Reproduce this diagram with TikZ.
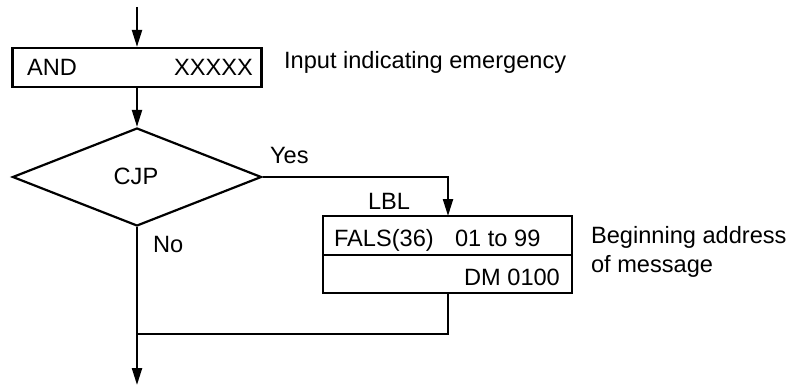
\documentclass[tikz,border=0pt]{standalone}
\usepackage{fontspec}
\setmainfont{Liberation Sans}
\usetikzlibrary{arrows.meta,shapes.geometric}
\begin{document}
\begin{tikzpicture}[x=1pt,y=-1pt,
  line width=2.2pt,
  every node/.style={font=\fontsize{23.6}{28}\selectfont},
  boxshape/.style={draw,rectangle,inner sep=0,minimum width=249pt},
  txt/.style={inner sep=0},
  flow/.style={-{Triangle[length=17pt,width=10pt]}}]
\useasboundingbox (0,0) rectangle (797,385);
% nodes
\coordinate (start) at (137,7);
\node[boxshape,minimum height=39pt] (andbox) at (137,67.5) {};
\node[txt,anchor=base west] (andtxt) at (26,76) {AND};
\node[txt,anchor=base east] (xtxt) at (254,76) {XXXXX};
\node[txt,anchor=base west] (input) at (283,69) {Input indicating emergency};
\node[draw,diamond,inner sep=0,minimum width=249pt,minimum height=98pt] (cjp) at (137,177) {};
\node[txt,anchor=base] (cjptxt) at (136,184) {CJP};
\node[txt,anchor=base west] (yes) at (269,163) {Yes};
\node[txt,anchor=base west] (no) at (152,252) {No};
\node[txt,anchor=base west] (lbl) at (367,209) {LBL};
\node[boxshape,minimum height=39pt] (fals) at (447.5,235.5) {};
\node[boxshape,minimum height=38pt] (dm) at (447.5,274) {};
\node[txt,anchor=base west] (falstxt) at (333,246) {FALS(36)};
\node[txt,anchor=base west] (rangetxt) at (454,246) {01 to 99};
\node[txt,anchor=base east] (dmtxt) at (561,285) {DM 0100};
\node[txt,anchor=base west] (begin1) at (590,243) {Beginning address};
\node[txt,anchor=base west] (begin2) at (590,272) {of message};
\coordinate (yescorner) at (448,177);
\coordinate (falsin) at (448,216);
\coordinate (falsout) at (448,293);
\coordinate (joinr) at (448,334);
\coordinate (joinl) at (137,334);
\coordinate (exit) at (137,385);
% connectors
\draw[flow] (start) -- (andbox.north);
\draw[flow] (andbox.south) -- (cjp.north);
\draw[flow] (cjp.east) -- (yescorner) -- (falsin);
\draw (falsout) -- (joinr) -- (joinl);
\draw[flow] (cjp.south) -- (exit);
\end{tikzpicture}
\end{document}
